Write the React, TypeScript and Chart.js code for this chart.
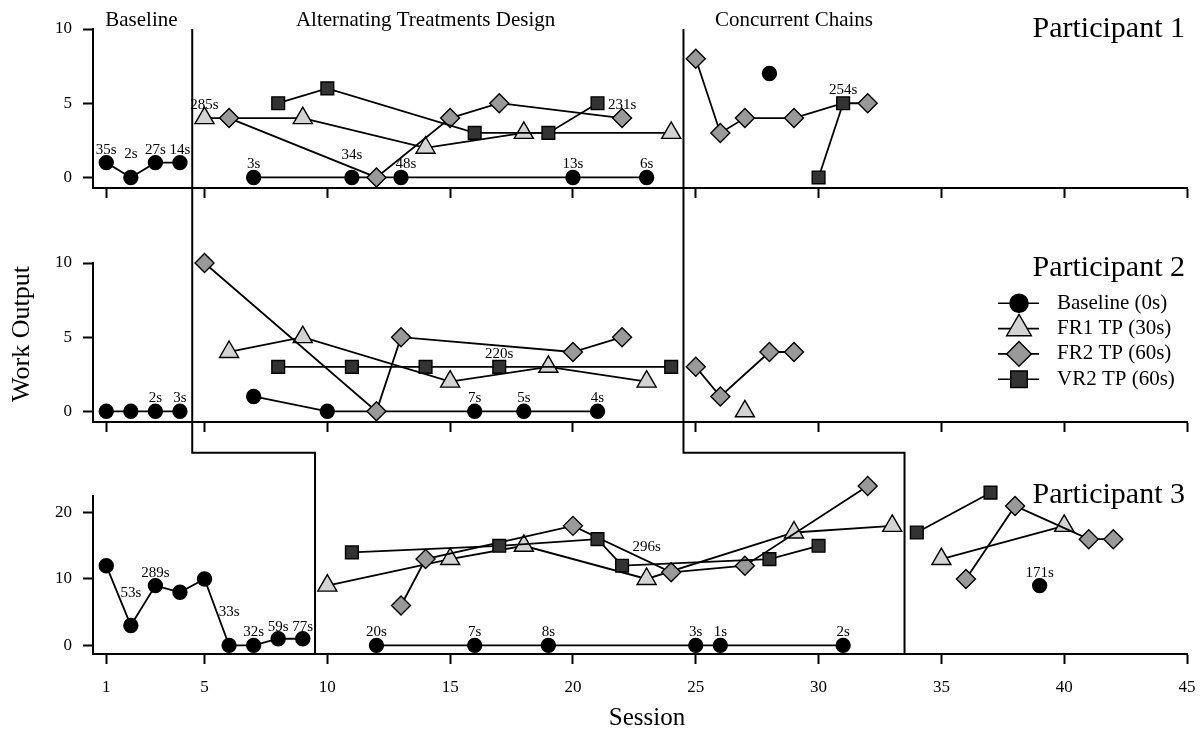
import React, { useEffect, useRef } from 'react';
import { Chart, registerables } from 'chart.js';
import { drawPoint } from 'chart.js/helpers';

Chart.register(...registerables);

type Pt = [number, number];
type Lbl = [number, number, string];

const FONT = "'Liberation Serif', 'Times New Roman', 'DejaVu Serif', serif";

// ---------- axes / phases ----------
const sessionTicks = [1, 5, 10, 15, 20, 25, 30, 35, 40, 45];
const p12ValueTicks = [0, 5, 10];
const p3ValueTicks = [0, 10, 20];

const phaseNames = ['Baseline', 'Alternating Treatments Design', 'Concurrent Chains'];
const phaseNameSessions = [2.43, 14, 29];
const p12PhaseChanges = [4.5, 24.5];
const p3PhaseChanges = [9.5, 33.5];
const p3PhaseStepLevel = 29;

const legendNames = ['Baseline (0s)', 'FR1 TP (30s)', 'FR2 TP (60s)', 'VR2 TP (60s)'];
const participantNames = ['Participant 1', 'Participant 2', 'Participant 3'];

// ---------- Participant 1 ----------
const p1BaselineBL: Pt[] = [[1, 1], [2, 0], [3, 1], [4, 1]];
const p1AtdBL: Pt[] = [[7, 0], [11, 0], [13, 0], [20, 0], [23, 0]];
const p1AtdFR1: Pt[] = [[5, 4], [9, 4], [14, 2], [18, 3], [24, 3]];
const p1AtdFR2: Pt[] = [[6, 4], [12, 0], [15, 4], [17, 5], [22, 4]];
const p1AtdVR2: Pt[] = [[8, 5], [10, 6], [16, 3], [19, 3], [21, 5]];
const p1CcBL: Pt[] = [[28, 7]];
const p1CcFR2: Pt[] = [[25, 8], [26, 3], [27, 4], [29, 4], [31, 5], [32, 5]];
const p1CcFR2NoMarker = [31];
const p1CcVR2: Pt[] = [[30, 0], [31, 5]];
const p1Latencies: Lbl[] = [
  [1, 1, '35s'], [2, 0.72, '2s'], [3, 1, '27s'], [4, 1, '14s'], [5, 4, '285s'],
  [7, 0, '3s'], [11, 0.65, '34s'], [13.2, 0, '48s'], [20, 0, '13s'], [22, 4, '231s'],
  [23, 0, '6s'], [31, 5, '254s'],
];

// ---------- Participant 2 ----------
const p2BaselineBL: Pt[] = [[1, 0], [2, 0], [3, 0], [4, 0]];
const p2AtdBL: Pt[] = [[7, 1], [10, 0], [16, 0], [18, 0], [21, 0]];
const p2AtdFR1: Pt[] = [[6, 4], [9, 5], [15, 2], [19, 3], [23, 2]];
const p2AtdFR2: Pt[] = [[5, 10], [12, 0], [13, 5], [20, 4], [22, 5]];
const p2AtdVR2: Pt[] = [[8, 3], [11, 3], [14, 3], [17, 3], [24, 3]];
const p2CcFR1: Pt[] = [[27, 0]];
const p2CcFR2: Pt[] = [[25, 3], [26, 1], [28, 4], [29, 4]];
const p2Latencies: Lbl[] = [
  [3, 0, '2s'], [4, 0, '3s'], [16, 0, '7s'], [17, 3, '220s'], [18, 0, '5s'], [21, 0, '4s'],
];

// ---------- Participant 3 ----------
const p3BaselineBL: Pt[] = [[1, 12], [2, 3], [3, 9], [4, 8], [5, 10], [6, 0], [7, 0], [8, 1], [9, 1]];
const p3AtdBL: Pt[] = [[12, 0], [16, 0], [19, 0], [25, 0], [26, 0], [31, 0]];
const p3AtdFR1: Pt[] = [[10, 9], [15, 13], [18, 15], [23, 10], [29, 17], [33, 18]];
const p3AtdFR2: Pt[] = [[13, 6], [14, 13], [20, 18], [24, 11], [27, 12], [32, 24]];
const p3AtdVR2: Pt[] = [[11, 14], [17, 15], [21, 16], [22, 12], [28, 13], [30, 15]];
const p3CcBL: Pt[] = [[39, 9]];
const p3CcFR1: Pt[] = [[35, 13], [40, 18]];
const p3CcFR2: Pt[] = [[36, 10], [38, 21], [41, 16], [42, 16]];
const p3CcVR2: Pt[] = [[34, 17], [37, 23]];
const p3Latencies: Lbl[] = [
  [2, 5.85, '53s'], [3, 9, '289s'], [6, 3, '33s'], [7, 0, '32s'], [8, 0.85, '59s'], [9, 0.85, '77s'],
  [12, 0, '20s'], [16, 0, '7s'], [19, 0, '8s'], [23, 12.9, '296s'], [25, 0, '3s'], [26, 0, '1s'],
  [31, 0, '2s'], [39, 9, '171s'],
];

// ---------- styles ----------
const SERIES: Record<string, any> = {
  BL: { pointStyle: 'circle', radius: 7, fill: '#000000', order: 4 },
  FR1: { pointStyle: 'triangle', radius: 11, fill: '#d3d3d3', order: 3 },
  FR2: { pointStyle: 'rectRot', radius: 9.5, fill: '#999999', order: 2 },
  VR2: { pointStyle: 'rect', radius: 9, fill: '#333333', order: 1 },
};
const legendKeys = ['BL', 'FR1', 'FR2', 'VR2'];

function ds(points: Pt[], key: string, noMarker: number[] = []) {
  const st = SERIES[key];
  return {
    data: points.map(([x, y]) => ({ x, y })),
    pointStyle: st.pointStyle,
    pointRadius: points.map(([x]) => (noMarker.includes(x) ? 0 : st.radius)),
    pointBackgroundColor: st.fill,
    pointBorderColor: '#000',
    pointBorderWidth: 1.4,
    borderColor: '#000',
    borderWidth: 1.8,
    fill: false,
    tension: 0,
    clip: false,
    order: st.order,
  };
}

function drawText(ctx: CanvasRenderingContext2D, str: string, x: number, y: number, size: number,
  align: CanvasTextAlign = 'center', baseline: CanvasTextBaseline = 'middle', rot = 0) {
  ctx.save();
  ctx.fillStyle = '#000';
  ctx.font = `${size}px ${FONT}`;
  ctx.textAlign = align;
  ctx.textBaseline = baseline;
  ctx.translate(x, y);
  if (rot) ctx.rotate(rot);
  ctx.fillText(str, 0, 0);
  ctx.restore();
}

const panels: any[] = [
  {
    datasets: [
      ds(p1BaselineBL, 'BL'), ds(p1AtdBL, 'BL'), ds(p1AtdFR1, 'FR1'), ds(p1AtdFR2, 'FR2'),
      ds(p1AtdVR2, 'VR2'), ds(p1CcBL, 'BL'), ds(p1CcFR2, 'FR2', p1CcFR2NoMarker), ds(p1CcVR2, 'VR2'),
    ],
    yMin: -0.71, yMax: 10, yTicks: p12ValueTicks,
    top: 29, bottomPad: 540, xHeight: 10, xLabels: false,
    latencies: p1Latencies, title: participantNames[0], titleDy: 8,
    extra: (chart: any) => {
      const { ctx, scales } = chart;
      phaseNames.forEach((n, i) => drawText(ctx, n, scales.x.getPixelForValue(phaseNameSessions[i]), 26, 21, 'center', 'alphabetic'));
    },
  },
  {
    datasets: [
      ds(p2BaselineBL, 'BL'), ds(p2AtdBL, 'BL'), ds(p2AtdFR1, 'FR1'), ds(p2AtdFR2, 'FR2'),
      ds(p2AtdVR2, 'VR2'), ds(p2CcFR1, 'FR1'), ds(p2CcFR2, 'FR2'),
    ],
    yMin: -0.72, yMax: 10, yTicks: p12ValueTicks,
    top: 263, bottomPad: 306, xHeight: 10, xLabels: false,
    latencies: p2Latencies, title: participantNames[1], titleDy: 13,
    extra: (chart: any) => {
      const { ctx } = chart;
      legendNames.forEach((name, i) => {
        const st = SERIES[legendKeys[i]];
        const cy = 303.3 + i * 25.3;
        ctx.save();
        ctx.strokeStyle = '#000';
        ctx.lineWidth = 1.6;
        ctx.beginPath();
        ctx.moveTo(998, cy);
        ctx.lineTo(1039, cy);
        ctx.stroke();
        ctx.fillStyle = st.fill;
        ctx.lineWidth = 1.4;
        drawPoint(ctx, { pointStyle: st.pointStyle, radius: st.radius * 1.3, borderWidth: 1.4, rotation: 0 }, 1019, cy);
        ctx.restore();
        drawText(ctx, name, 1057, cy, 21, 'left', 'middle');
      });
      drawText(ctx, 'Work Output', 22.5, 334, 26, 'center', 'middle', -Math.PI / 2);
    },
  },
  {
    datasets: [
      ds(p3BaselineBL, 'BL'), ds(p3AtdBL, 'BL'), ds(p3AtdFR1, 'FR1'), ds(p3AtdFR2, 'FR2'),
      ds(p3AtdVR2, 'VR2'), ds(p3CcBL, 'BL'), ds(p3CcFR1, 'FR1'), ds(p3CcFR2, 'FR2'), ds(p3CcVR2, 'VR2'),
    ],
    yMin: -1.3, yMax: 22.5, yTicks: p3ValueTicks,
    top: 496, bottomPad: 44, xHeight: 40, xLabels: true,
    latencies: p3Latencies, title: participantNames[2], titleDy: 7,
    extra: (chart: any, charts: any[]) => {
      const { ctx, scales, chartArea } = chart;
      drawText(ctx, 'Session', 647, 718, 25, 'center', 'middle');
      const top = charts[0] ? charts[0].chartArea.top : 29;
      const stepY = scales.y.getPixelForValue(p3PhaseStepLevel);
      ctx.save();
      ctx.strokeStyle = '#000';
      ctx.lineWidth = 2;
      for (let i = 0; i < p12PhaseChanges.length; i++) {
        const xt = scales.x.getPixelForValue(p12PhaseChanges[i]);
        const xb = scales.x.getPixelForValue(p3PhaseChanges[i]);
        ctx.beginPath();
        ctx.moveTo(xt, top);
        ctx.lineTo(xt, stepY);
        ctx.lineTo(xb, stepY);
        ctx.lineTo(xb, chartArea.bottom);
        ctx.stroke();
      }
      ctx.restore();
    },
  },
];

function makeConfig(p: any, charts: any[]): any {
  const grid = { drawOnChartArea: false, drawTicks: true, tickLength: 10, tickWidth: 2, tickColor: '#000' };
  const border = { display: true, color: '#000', width: 2 };
  return {
    type: 'line',
    data: { datasets: p.datasets },
    options: {
      responsive: false,
      animation: false,
      events: [],
      layout: { padding: { left: 0, right: 15, top: p.top, bottom: p.bottomPad } },
      plugins: { legend: { display: false }, tooltip: { enabled: false } },
      scales: {
        x: {
          type: 'linear', min: 0.46, max: 45, bounds: 'data',
          afterBuildTicks: (s: any) => { s.ticks = sessionTicks.map((v) => ({ value: v })); },
          afterFit: (s: any) => { s.height = p.xHeight; s.paddingLeft = 0; s.paddingRight = 0; },
          grid, border,
          ticks: { display: p.xLabels, autoSkip: false, maxRotation: 0, padding: 13, color: '#000', font: { family: FONT, size: 17 } },
        },
        y: {
          type: 'linear', min: p.yMin, max: p.yMax, bounds: 'data',
          afterBuildTicks: (s: any) => { s.ticks = p.yTicks.map((v: number) => ({ value: v })); },
          afterFit: (s: any) => { s.width = 93; s.paddingTop = 0; s.paddingBottom = 0; },
          grid, border,
          ticks: { padding: 11, color: '#000', font: { family: FONT, size: 17 } },
        },
      },
    },
    plugins: [
      {
        id: 'annotate',
        afterDatasetsDraw(chart: any) {
          const { ctx, scales, chartArea } = chart;
          for (const [s, v, t] of p.latencies as Lbl[]) {
            drawText(ctx, t, scales.x.getPixelForValue(s), scales.y.getPixelForValue(v) - 13, 15);
          }
          drawText(ctx, p.title, chartArea.right - 2, chartArea.top + p.titleDy, 30, 'right', 'alphabetic');
          if (p.extra) p.extra(chart, charts);
        },
      },
    ],
  };
}

export default function App() {
  const r1 = useRef<HTMLCanvasElement>(null);
  const r2 = useRef<HTMLCanvasElement>(null);
  const r3 = useRef<HTMLCanvasElement>(null);

  useEffect(() => {
    const refs = [r1, r2, r3];
    const charts: any[] = [];
    panels.forEach((p, i) => {
      const c = refs[i].current;
      if (c) charts.push(new Chart(c, makeConfig(p, charts)));
    });
    return () => { charts.forEach((c) => c.destroy()); };
  }, []);

  const cs: React.CSSProperties = { position: 'absolute', left: 0, top: 0, width: 1202, height: 738 };
  return (
    <div style={{ position: 'absolute', left: 0, top: 0, width: 1202, height: 738, background: '#fff', overflow: 'hidden' }}>
      <canvas ref={r1} width={1202} height={738} style={cs} />
      <canvas ref={r2} width={1202} height={738} style={cs} />
      <canvas ref={r3} width={1202} height={738} style={cs} />
    </div>
  );
}
